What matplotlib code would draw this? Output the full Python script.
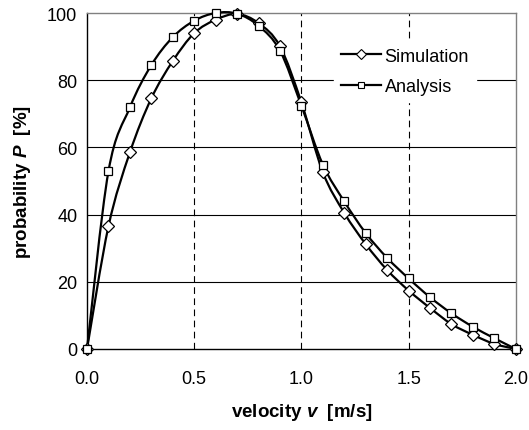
import numpy as np
import matplotlib
matplotlib.use('Agg')
import matplotlib.pyplot as plt
from matplotlib.path import Path
from matplotlib.patches import PathPatch

plt.rcParams['font.family'] = ['Liberation Sans', 'DejaVu Sans']
plt.rcParams['mathtext.fontset'] = 'custom'
plt.rcParams['mathtext.bfit'] = 'Liberation Sans:bold:italic'
plt.rcParams['mathtext.rm'] = 'Liberation Sans'

# ---------------------------------------------------------------------------
# Data
# ---------------------------------------------------------------------------
velocity = [0.0, 0.1, 0.2, 0.3, 0.4, 0.5, 0.6, 0.7, 0.8, 0.9, 1.0,
            1.1, 1.2, 1.3, 1.4, 1.5, 1.6, 1.7, 1.8, 1.9, 2.0]
simulation = [0.0, 36.5, 58.5, 74.6, 85.7, 94.0, 98.0, 99.7, 97.0, 90.1, 73.4,
              52.6, 40.5, 31.2, 23.5, 17.4, 12.2, 7.4, 4.2, 1.5, 0.0]
analysis = [0.0, 52.9, 71.9, 84.5, 92.8, 97.7, 100.0, 99.8, 96.2, 88.8, 72.4,
            54.9, 43.9, 34.5, 27.1, 21.0, 15.4, 10.6, 6.6, 3.2, 0.0]

x_ticks = [0.0, 0.5, 1.0, 1.5, 2.0]
y_ticks = [0, 20, 40, 60, 80, 100]


def smooth_path(x, y):
    """Excel-style smoothed line: cubic Bezier through points (Catmull-Rom)."""
    pts = np.column_stack([x, y])
    n = len(pts)
    verts = [pts[0]]
    codes = [Path.MOVETO]
    for i in range(n - 1):
        p0 = pts[max(i - 1, 0)]
        p1 = pts[i]
        p2 = pts[i + 1]
        p3 = pts[min(i + 2, n - 1)]
        c1 = p1 + (p2 - p0) / 6.0
        c2 = p2 - (p3 - p1) / 6.0
        verts += [c1, c2, p2]
        codes += [Path.CURVE4] * 3
    return Path(verts, codes)


fig = plt.figure(figsize=(5.29, 4.31), dpi=100)
ax = fig.add_axes([0.1645, 0.188, 0.8105, 0.7795])

for vals in (simulation, analysis):
    ax.add_patch(PathPatch(smooth_path(velocity, vals), facecolor='none',
                           edgecolor='black', linewidth=1.6, zorder=3,
                           clip_on=False))

ax.plot(velocity, simulation, linestyle='none', marker='D', markersize=6.5,
        markerfacecolor='white', markeredgecolor='black',
        markeredgewidth=0.9, zorder=4, clip_on=False)
ax.plot(velocity, analysis, linestyle='none', marker='s', markersize=6,
        markerfacecolor='white', markeredgecolor='black',
        markeredgewidth=0.9, zorder=5, clip_on=False)

# legend proxies
ax.plot([], [], color='black', linewidth=1.6, marker='D', markersize=5,
        markerfacecolor='white', markeredgecolor='black',
        markeredgewidth=0.8, label='Simulation')
ax.plot([], [], color='black', linewidth=1.6, marker='s', markersize=4.5,
        markerfacecolor='white', markeredgecolor='black',
        markeredgewidth=0.8, label='Analysis')

ax.set_xlim(0, 2.0)
ax.set_ylim(0, 100)
ax.set_xticks(x_ticks)
ax.set_xticklabels([f'{t:.1f}' for t in x_ticks])
ax.set_yticks(y_ticks)
ax.tick_params(length=0, labelsize=13)
ax.tick_params(axis='x', pad=15)
ax.tick_params(axis='y', pad=7)

# gridlines: solid horizontal, dashed vertical
for yv in y_ticks[1:-1]:
    ax.axhline(yv, color='black', linewidth=0.8, zorder=1)
for xv in x_ticks[1:-1]:
    ax.axvline(xv, color='black', linewidth=0.8, linestyle=(0, (6, 4)),
               zorder=1)

for side in ('top', 'right'):
    ax.spines[side].set_color('#808080')
    ax.spines[side].set_linewidth(1.0)
for side in ('left', 'bottom'):
    ax.spines[side].set_color('black')
    ax.spines[side].set_linewidth(1.0)

ax.set_xlabel(r'velocity $\mathbfit{v}$  [m/s]', fontsize=13.5,
              fontweight='bold', labelpad=10)
ax.set_ylabel(r'probability $\mathbfit{P}$  [%]', fontsize=13.5,
              fontweight='bold', labelpad=10)

leg = ax.legend(loc='upper left', bbox_to_anchor=(0.555, 0.945),
                frameon=True, fontsize=13, handlelength=2.2,
                handletextpad=0.2, labelspacing=0.75, borderpad=0.4)
leg.get_frame().set_edgecolor('white')
leg.get_frame().set_facecolor('white')
leg.get_frame().set_alpha(1.0)
leg.get_frame().set_boxstyle('square', pad=0.0)
leg.set_zorder(6)

fig.savefig('out.png', dpi=100)
